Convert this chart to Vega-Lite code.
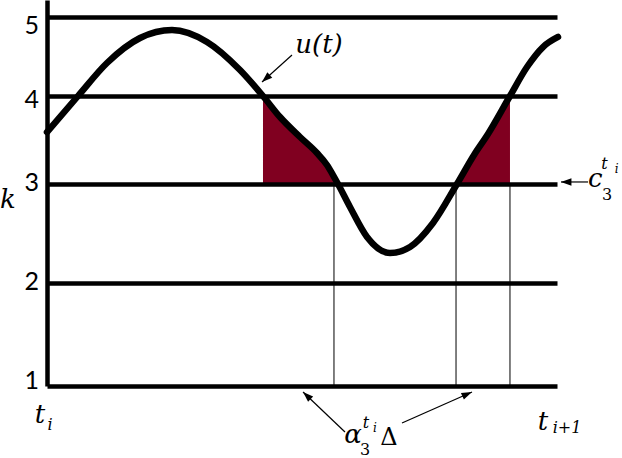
{
  "$schema": "https://vega.github.io/schema/vega-lite/v6.json",
  "width": 510,
  "height": 386,
  "autosize": "none",
  "padding": {"left": 47, "top": 0, "right": 65, "bottom": 72},
  "config": {"view": {"stroke": null}},
  "datasets": {
    "curve": [
      {"t": 0, "k": 3.59}, {"t": 0.608, "k": 4.0}, {"t": 1.176, "k": 4.418}, {"t": 1.824, "k": 4.734},
      {"t": 2.451, "k": 4.835}, {"t": 3.137, "k": 4.684}, {"t": 3.784, "k": 4.329}, {"t": 4.235, "k": 4.0},
      {"t": 4.569, "k": 3.761}, {"t": 4.961, "k": 3.534}, {"t": 5.294, "k": 3.352}, {"t": 5.49, "k": 3.216},
      {"t": 5.608, "k": 3.102}, {"t": 5.706, "k": 3.0},
      {"t": 5.941, "k": 2.768}, {"t": 6.275, "k": 2.465}, {"t": 6.725, "k": 2.303}, {"t": 7.118, "k": 2.364},
      {"t": 7.569, "k": 2.606}, {"t": 8.039, "k": 3.0}, {"t": 8.373, "k": 3.33}, {"t": 8.647, "k": 3.568},
      {"t": 9.078, "k": 4.0}, {"t": 9.412, "k": 4.367}, {"t": 9.725, "k": 4.62}, {"t": 10.02, "k": 4.747}
    ],
    "shade": [
      {"g": "a", "t": 4.235, "k": 4.0}, {"g": "a", "t": 4.569, "k": 3.761}, {"g": "a", "t": 4.961, "k": 3.534},
      {"g": "a", "t": 5.294, "k": 3.352}, {"g": "a", "t": 5.49, "k": 3.216}, {"g": "a", "t": 5.608, "k": 3.102},
      {"g": "a", "t": 5.706, "k": 3.0},
      {"g": "b", "t": 8.039, "k": 3.0}, {"g": "b", "t": 8.373, "k": 3.33}, {"g": "b", "t": 8.647, "k": 3.568},
      {"g": "b", "t": 9.078, "k": 4.0}
    ],
    "drops": [
      {"t": 5.627, "k": 3}, {"t": 8.02, "k": 3}, {"t": 9.078, "k": 3}
    ],
    "arrows": [
      {"id": "u", "t": 4.216, "k": 4.177, "t2": 4.804, "k2": 4.519},
      {"id": "c", "t": 10.078, "k": 3.023, "t2": 10.608, "k2": 3.023},
      {"id": "aL", "t": 5.02, "k": 0.942, "t2": 5.843, "k2": 0.553},
      {"id": "aR", "t": 8.333, "k": 0.942, "t2": 6.961, "k2": 0.641}
    ],
    "ticklabels": [
      {"text": "5", "t": -0.157, "k": 4.886},
      {"text": "4", "t": -0.157, "k": 3.955},
      {"text": "3", "t": -0.157, "k": 3.011},
      {"text": "2", "t": -0.157, "k": 2.01},
      {"text": "1", "t": -0.157, "k": 1.049}
    ],
    "labels": [
      {"role": "it", "text": "k", "t": -0.765, "k": 2.758},
      {"role": "it", "text": "u(t)", "t": 5.333, "k": 4.544},
      {"role": "it", "text": "t", "t": -0.137, "k": 0.641},
      {"role": "it", "text": "t", "t": 9.725, "k": 0.573},
      {"role": "it", "text": "α", "t": 6.0, "k": 0.447},
      {"role": "it", "text": "c", "t": 10.75, "k": 2.97},
      {"role": "up", "text": "Δ", "t": 6.706, "k": 0.427},
      {"role": "sit", "text": "i", "t": 0.059, "k": 0.573},
      {"role": "sit", "text": "i+1", "t": 10.196, "k": 0.544},
      {"role": "sit", "text": "t", "t": 6.255, "k": 0.592},
      {"role": "sit", "text": "t", "t": 10.93, "k": 3.17},
      {"role": "sup", "text": "3", "t": 6.235, "k": 0.33},
      {"role": "sup", "text": "3", "t": 10.98, "k": 2.84},
      {"role": "tit", "text": "i", "t": 6.431, "k": 0.553},
      {"role": "tit", "text": "i", "t": 11.17, "k": 3.13}
    ]
  },
  "encoding": {
    "x": {"field": "t", "type": "quantitative", "axis": null,
          "scale": {"domain": [0, 10], "nice": false, "zero": false}},
    "y": {"field": "k", "type": "quantitative",
          "scale": {"type": "linear", "domain": [1, 2, 3, 4, 5, 5.215], "range": [386, 283, 184, 96, 17, 0], "nice": false, "zero": false},
          "axis": {"title": null, "values": [1, 2, 3, 4, 5], "grid": true, "gridColor": "black", "gridWidth": 4.5, "gridOpacity": 1,
                   "domainColor": "black", "domainWidth": 4.5, "ticks": false, "labels": false, "zindex": 1}}
  },
  "layer": [
    {"data": {"name": "shade"}, "mark": {"type": "area", "color": "#800020", "interpolate": "monotone", "opacity": 1},
     "encoding": {"y2": {"datum": 3}, "detail": {"field": "g"}}},
    {"data": {"name": "drops"}, "mark": {"type": "rule", "color": "black", "strokeWidth": 1},
     "encoding": {"y2": {"datum": 1}}},
    {"data": {"name": "curve"}, "mark": {"type": "line", "color": "black", "strokeWidth": 6.5, "interpolate": "monotone", "strokeCap": "round"},
     "encoding": {}},
    {"data": {"name": "arrows"}, "mark": {"type": "rule", "color": "black", "strokeWidth": 1.2},
     "encoding": {"x2": {"field": "t2"}, "y2": {"field": "k2"}}},
    {"data": {"name": "arrows"}, "transform": [{"filter": "datum.id === 'u'"}],
     "mark": {"type": "point", "shape": "M0,0L-0.7,2L0.7,2Z", "filled": true, "color": "black", "opacity": 1, "size": 110, "angle": 228},
     "encoding": {}},
    {"data": {"name": "arrows"}, "transform": [{"filter": "datum.id === 'c'"}],
     "mark": {"type": "point", "shape": "M0,0L-0.7,2L0.7,2Z", "filled": true, "color": "black", "opacity": 1, "size": 110, "angle": 270},
     "encoding": {}},
    {"data": {"name": "arrows"}, "transform": [{"filter": "datum.id === 'aL'"}],
     "mark": {"type": "point", "shape": "M0,0L-0.7,2L0.7,2Z", "filled": true, "color": "black", "opacity": 1, "size": 110, "angle": 313.6},
     "encoding": {}},
    {"data": {"name": "arrows"}, "transform": [{"filter": "datum.id === 'aR'"}],
     "mark": {"type": "point", "shape": "M0,0L-0.7,2L0.7,2Z", "filled": true, "color": "black", "opacity": 1, "size": 110, "angle": 66},
     "encoding": {}},
    {"data": {"name": "ticklabels"},
     "mark": {"type": "text", "font": "Lato", "fontSize": 25, "align": "right", "baseline": "middle", "color": "black"},
     "encoding": {"text": {"field": "text"}}},
    {"data": {"name": "labels"}, "transform": [{"filter": "datum.role === 'it'"}],
     "mark": {"type": "text", "font": "DejaVu Serif", "fontStyle": "italic", "fontSize": 26, "align": "center", "baseline": "alphabetic", "color": "black"},
     "encoding": {"text": {"field": "text"}}},
    {"data": {"name": "labels"}, "transform": [{"filter": "datum.role === 'up'"}],
     "mark": {"type": "text", "font": "DejaVu Serif", "fontSize": 24, "align": "center", "baseline": "alphabetic", "color": "black"},
     "encoding": {"text": {"field": "text"}}},
    {"data": {"name": "labels"}, "transform": [{"filter": "datum.role === 'sit'"}],
     "mark": {"type": "text", "font": "DejaVu Serif", "fontStyle": "italic", "fontSize": 16, "align": "center", "baseline": "alphabetic", "color": "black"},
     "encoding": {"text": {"field": "text"}}},
    {"data": {"name": "labels"}, "transform": [{"filter": "datum.role === 'sup'"}],
     "mark": {"type": "text", "font": "DejaVu Serif", "fontSize": 16, "align": "center", "baseline": "alphabetic", "color": "black"},
     "encoding": {"text": {"field": "text"}}},
    {"data": {"name": "labels"}, "transform": [{"filter": "datum.role === 'tit'"}],
     "mark": {"type": "text", "font": "DejaVu Serif", "fontStyle": "italic", "fontSize": 12, "align": "center", "baseline": "alphabetic", "color": "black"},
     "encoding": {"text": {"field": "text"}}}
  ]
}
